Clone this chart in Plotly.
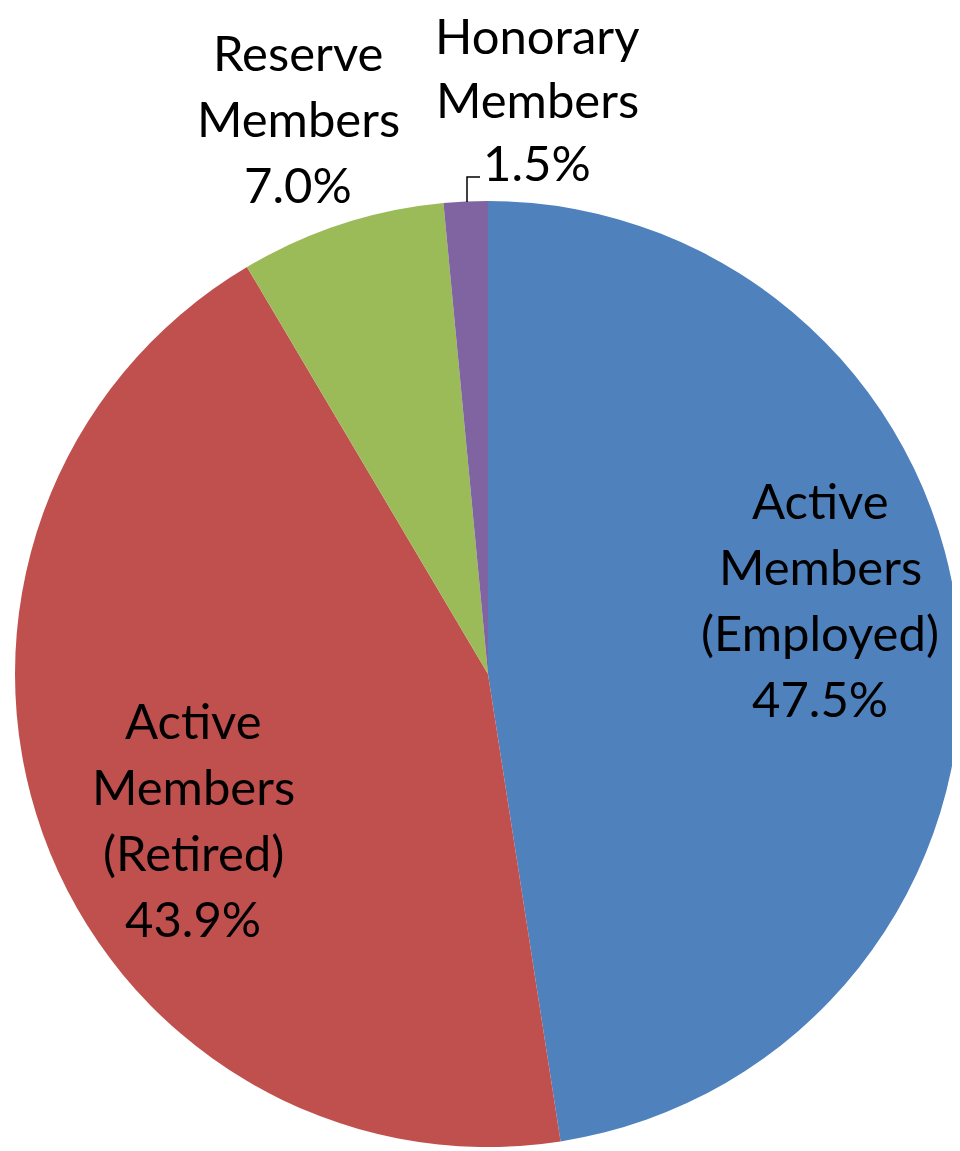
import plotly.graph_objects as go

labels = ["Active Members (Employed)", "Active Members (Retired)", "Reserve Members", "Honorary Members"]
values = [47.5, 43.9, 7.0, 1.5]
colors = ["#4F81BD", "#C0504D", "#9BBB59", "#8064A2"]
label_lines = [["Active", "Members", "(Employed)"],
               ["Active", "Members", "(Retired)"],
               ["Reserve", "Members"],
               ["Honorary", "Members"]]

W, H = 960, 1151
OFF = 8  # default page body margin
FONT = "Lato, 'Open Sans', sans-serif"
FS = 49


def px(x):
    return (x - OFF) / W


def py(y):
    return 1 - (y - OFF) / H


# pie: center (488, 674), radius 473 in page pixels
CX, CY, R = 488, 674, 473
fig = go.Figure(go.Pie(
    labels=labels, values=values, sort=False, direction="clockwise", rotation=0,
    marker=dict(colors=colors, line=dict(width=0)),
    textinfo="none", hoverinfo="label+percent", showlegend=False,
    domain=dict(x=[px(CX - R), px(CX + R)], y=[py(CY + R), py(CY - R)]),
))

# label block anchor positions (page pixels: center x, first line y) and line spacing
anchors = [(820, 500), (193, 720), (298, 52), (537, 35)]
spacing = 66

annotations = []
for lines, val, (cx, y0) in zip(label_lines, values, anchors):
    n = len(lines) + 1
    for i, t in enumerate(lines + [f"{val:.1f}%"]):
        yy = y0 + i * spacing
        if val == values[-1]:
            yy = y0 + i * 63.5
        annotations.append(dict(
            x=px(cx), y=py(yy), xref="paper", yref="paper",
            text=t, showarrow=False, xanchor="center", yanchor="middle",
            font=dict(family=FONT, size=FS, color="black"),
        ))

fig.update_layout(
    width=W, height=H, margin=dict(l=0, r=0, t=0, b=0),
    paper_bgcolor="white", plot_bgcolor="white",
    annotations=annotations,
    shapes=[dict(type="path", xref="paper", yref="paper",
                 path=f"M {px(467)} {py(202)} L {px(467)} {py(177)} L {px(480)} {py(177)}",
                 line=dict(color="black", width=1.5))],
)

fig.write_html("out.html")
